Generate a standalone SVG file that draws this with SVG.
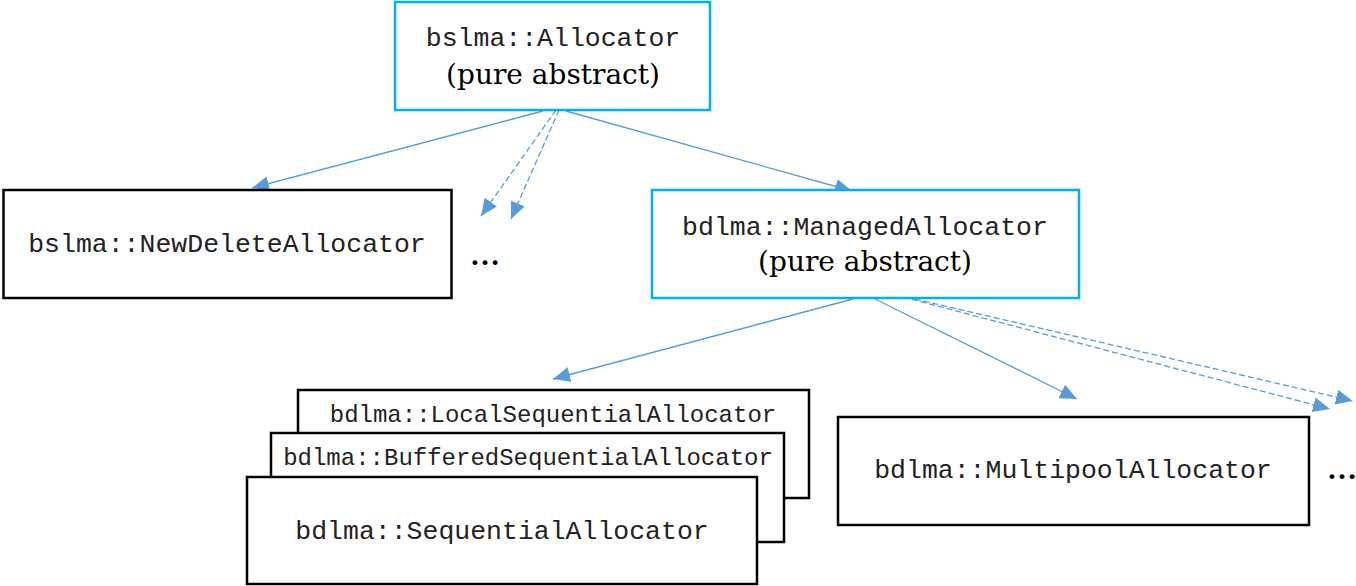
<svg xmlns="http://www.w3.org/2000/svg" width="1356" height="586" viewBox="0 0 1356 586">
<style>
.abs{fill:#fff;stroke:#00B0F0;stroke-width:2.5}
.box{fill:#fff;stroke:#000;stroke-width:2.5}
.mono{font-family:"Liberation Mono","Courier New",monospace;font-size:26.5px;fill:#222;text-anchor:middle}
.serif{font-family:"DejaVu Serif","Liberation Serif",serif;font-size:28px;fill:#000;text-anchor:middle}
.dots{font-family:"Liberation Serif",serif;font-size:30px;font-weight:bold;fill:#000}
.c{stroke:#5B9BD5;stroke-width:1.3;fill:none;marker-end:url(#ah)}
.d{stroke-dasharray:6 3}
</style>
<defs>
<marker id="ah" markerUnits="userSpaceOnUse" markerWidth="18" markerHeight="16" refX="17" refY="7.5" orient="auto">
<path d="M0,0 L17,7.5 L0,15 z" fill="#5B9BD5"/>
</marker>
</defs>
<g id="connectors">
<line class="c" x1="543" y1="111" x2="252" y2="188"/>
<line class="c" x1="566" y1="111" x2="852" y2="191"/>
<line class="c d" x1="556" y1="110" x2="481" y2="216"/>
<line class="c d" x1="559" y1="110" x2="511" y2="219"/>
<line class="c" x1="853" y1="299" x2="553" y2="379"/>
<line class="c" x1="875" y1="299" x2="1077" y2="399"/>
<line class="c d" x1="903" y1="297" x2="1330" y2="409"/>
<line class="c d" x1="906" y1="297" x2="1353" y2="401"/>
</g>
<g id="allocator">
<rect class="abs" x="395" y="2" width="315" height="108"/>
<text class="mono" x="553" y="46">bslma::Allocator</text>
<text class="serif" x="553" y="84">(pure abstract)</text>
</g>
<g id="newdelete">
<rect class="box" x="3.5" y="190" width="448" height="108"/>
<text class="mono" x="227" y="252">bslma::NewDeleteAllocator</text>
</g>
<g id="ellipsis1">
<text class="dots" x="470" y="265">…</text>
</g>
<g id="managed">
<rect class="abs" x="652" y="190" width="427" height="108"/>
<text class="mono" x="865" y="235">bdlma::ManagedAllocator</text>
<text class="serif" x="865" y="271">(pure abstract)</text>
</g>
<g id="local">
<rect class="box" x="298" y="390" width="511" height="108"/>
<text class="mono" x="553" y="422" style="font-size:24px">bdlma::LocalSequentialAllocator</text>
</g>
<g id="buffered">
<rect class="box" x="271" y="433" width="513" height="109"/>
<text class="mono" x="528" y="465" style="font-size:24px">bdlma::BufferedSequentialAllocator</text>
</g>
<g id="sequential">
<rect class="box" x="247" y="477" width="510" height="107"/>
<text class="mono" x="502" y="539">bdlma::SequentialAllocator</text>
</g>
<g id="multipool">
<rect class="box" x="838" y="417" width="471" height="108"/>
<text class="mono" x="1073" y="478">bdlma::MultipoolAllocator</text>
</g>
<g id="ellipsis2">
<text class="dots" x="1327" y="479">…</text>
</g>
</svg>
